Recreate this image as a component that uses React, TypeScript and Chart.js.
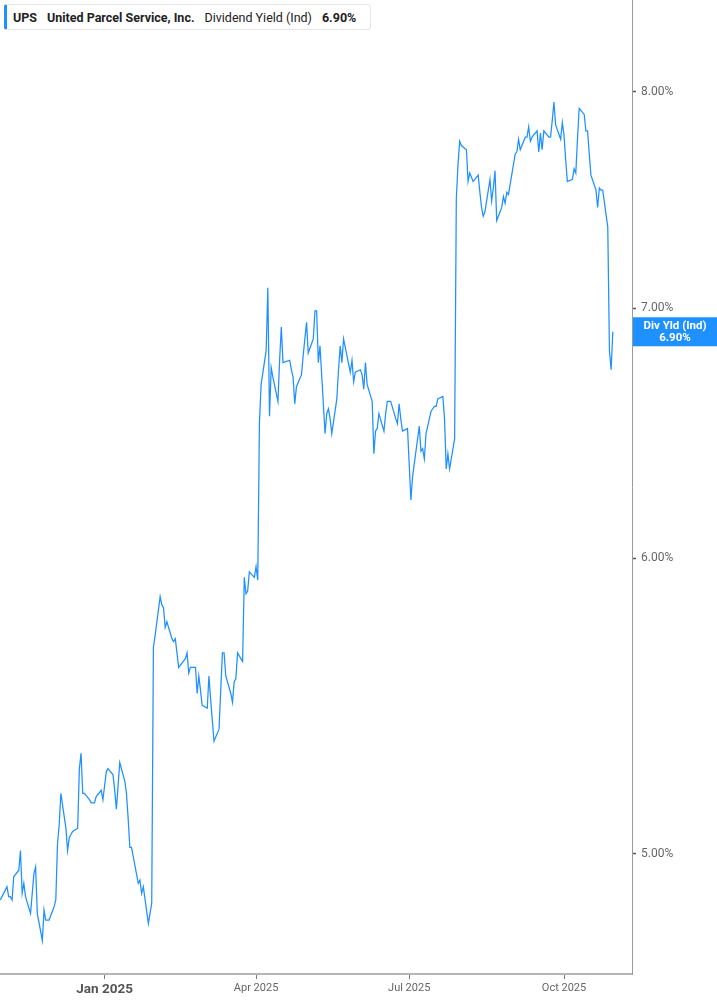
import { useEffect, useRef } from 'react'
import { Chart, registerables } from 'chart.js'

Chart.register(...registerables)

// trading days, Oct 31 2024 .. Oct 30 2025 (one row per month)
const tradingDates = [
  '2024-10-31',
  '2024-11-01', '2024-11-04', '2024-11-05', '2024-11-06', '2024-11-07', '2024-11-08', '2024-11-11', '2024-11-12', '2024-11-13', '2024-11-14', '2024-11-15', '2024-11-18', '2024-11-19', '2024-11-20', '2024-11-21', '2024-11-22', '2024-11-25', '2024-11-26', '2024-11-27', '2024-11-29',
  '2024-12-02', '2024-12-03', '2024-12-04', '2024-12-05', '2024-12-06', '2024-12-09', '2024-12-10', '2024-12-11', '2024-12-12', '2024-12-13', '2024-12-16', '2024-12-17', '2024-12-18', '2024-12-19', '2024-12-20', '2024-12-23', '2024-12-24', '2024-12-26', '2024-12-27', '2024-12-30', '2024-12-31',
  '2025-01-02', '2025-01-03', '2025-01-06', '2025-01-07', '2025-01-08', '2025-01-10', '2025-01-13', '2025-01-14', '2025-01-15', '2025-01-16', '2025-01-17', '2025-01-21', '2025-01-22', '2025-01-23', '2025-01-24', '2025-01-27', '2025-01-28', '2025-01-29', '2025-01-30', '2025-01-31',
  '2025-02-03', '2025-02-04', '2025-02-05', '2025-02-06', '2025-02-07', '2025-02-10', '2025-02-11', '2025-02-12', '2025-02-13', '2025-02-14', '2025-02-18', '2025-02-19', '2025-02-20', '2025-02-21', '2025-02-24', '2025-02-25', '2025-02-26', '2025-02-27', '2025-02-28',
  '2025-03-03', '2025-03-04', '2025-03-05', '2025-03-06', '2025-03-07', '2025-03-10', '2025-03-11', '2025-03-12', '2025-03-13', '2025-03-14', '2025-03-17', '2025-03-18', '2025-03-19', '2025-03-20', '2025-03-21', '2025-03-24', '2025-03-25', '2025-03-26', '2025-03-27', '2025-03-28', '2025-03-31',
  '2025-04-01', '2025-04-02', '2025-04-03', '2025-04-04', '2025-04-07', '2025-04-08', '2025-04-09', '2025-04-10', '2025-04-11', '2025-04-14', '2025-04-15', '2025-04-16', '2025-04-17', '2025-04-21', '2025-04-22', '2025-04-23', '2025-04-24', '2025-04-25', '2025-04-28', '2025-04-29', '2025-04-30',
  '2025-05-01', '2025-05-02', '2025-05-05', '2025-05-06', '2025-05-07', '2025-05-08', '2025-05-09', '2025-05-12', '2025-05-13', '2025-05-14', '2025-05-15', '2025-05-16', '2025-05-19', '2025-05-20', '2025-05-21', '2025-05-22', '2025-05-23', '2025-05-27', '2025-05-28', '2025-05-29', '2025-05-30',
  '2025-06-02', '2025-06-03', '2025-06-04', '2025-06-05', '2025-06-06', '2025-06-09', '2025-06-10', '2025-06-11', '2025-06-12', '2025-06-13', '2025-06-16', '2025-06-17', '2025-06-18', '2025-06-20', '2025-06-23', '2025-06-24', '2025-06-25', '2025-06-26', '2025-06-27', '2025-06-30',
  '2025-07-01', '2025-07-02', '2025-07-03', '2025-07-07', '2025-07-08', '2025-07-09', '2025-07-10', '2025-07-11', '2025-07-14', '2025-07-15', '2025-07-16', '2025-07-17', '2025-07-18', '2025-07-21', '2025-07-22', '2025-07-23', '2025-07-24', '2025-07-25', '2025-07-28', '2025-07-29', '2025-07-30', '2025-07-31',
  '2025-08-01', '2025-08-04', '2025-08-05', '2025-08-06', '2025-08-07', '2025-08-08', '2025-08-11', '2025-08-12', '2025-08-13', '2025-08-14', '2025-08-15', '2025-08-18', '2025-08-19', '2025-08-20', '2025-08-21', '2025-08-22', '2025-08-25', '2025-08-26', '2025-08-27', '2025-08-28', '2025-08-29',
  '2025-09-02', '2025-09-03', '2025-09-04', '2025-09-05', '2025-09-08', '2025-09-09', '2025-09-10', '2025-09-11', '2025-09-12', '2025-09-15', '2025-09-16', '2025-09-17', '2025-09-18', '2025-09-19', '2025-09-22', '2025-09-23', '2025-09-24', '2025-09-25', '2025-09-26', '2025-09-29', '2025-09-30',
  '2025-10-01', '2025-10-02', '2025-10-03', '2025-10-06', '2025-10-07', '2025-10-08', '2025-10-09', '2025-10-10', '2025-10-13', '2025-10-14', '2025-10-15', '2025-10-16', '2025-10-17', '2025-10-20', '2025-10-21', '2025-10-22', '2025-10-23', '2025-10-24', '2025-10-27', '2025-10-28', '2025-10-29', '2025-10-30',
]

// dividend yield (indicated), %
const dividendYield = [
  4.86,
  4.87, 4.90, 4.87, 4.87, 4.86, 4.93, 4.95, 5.01, 4.88, 4.91, 4.87, 4.82, 4.88, 4.94, 4.96, 4.82, 4.74, 4.83, 4.80, 4.80,
  4.84, 4.86, 5.03, 5.09, 5.19, 5.08, 5.01, 5.05, 5.06, 5.07, 5.08, 5.27, 5.32, 5.19, 5.19, 5.17, 5.16, 5.16, 5.18, 5.20, 5.17,
  5.26, 5.27, 5.25, 5.20, 5.14, 5.29, 5.23, 5.19, 5.11, 5.02, 5.02, 4.91, 4.92, 4.88, 4.90, 4.79, 4.82, 4.85, 5.68, 5.72,
  5.86, 5.83, 5.82, 5.75, 5.77, 5.71, 5.70, 5.71, 5.66, 5.61, 5.64, 5.66, 5.59, 5.61, 5.61, 5.52, 5.58, 5.53, 5.48,
  5.47, 5.58, 5.50, 5.43, 5.36, 5.40, 5.53, 5.66, 5.66, 5.58, 5.52, 5.49, 5.56, 5.57, 5.66, 5.63, 5.93, 5.87, 5.88, 5.95, 5.93,
  5.97, 5.92, 6.52, 6.68, 6.82, 7.09, 6.55, 6.75, 6.71, 6.61, 6.78, 6.92, 6.77, 6.78, 6.74, 6.71, 6.60, 6.67, 6.72, 6.80, 6.87,
  6.94, 6.81, 6.87, 6.99, 6.99, 6.77, 6.84, 6.48, 6.56, 6.58, 6.54, 6.48, 6.62, 6.74, 6.84, 6.77, 6.87, 6.73, 6.78, 6.69, 6.73,
  6.74, 6.72, 6.66, 6.77, 6.68, 6.61, 6.40, 6.49, 6.50, 6.56, 6.49, 6.56, 6.61, 6.61, 6.54, 6.52, 6.60, 6.54, 6.49, 6.50,
  6.36, 6.22, 6.31, 6.51, 6.41, 6.42, 6.38, 6.48, 6.57, 6.58, 6.59, 6.59, 6.62, 6.63, 6.54, 6.34, 6.40, 6.34, 6.46, 7.49, 7.65, 7.76,
  7.74, 7.72, 7.57, 7.61, 7.59, 7.57, 7.60, 7.52, 7.45, 7.41, 7.43, 7.58, 7.48, 7.54, 7.62, 7.39, 7.45, 7.50, 7.47, 7.52, 7.51,
  7.70, 7.71, 7.77, 7.72, 7.78, 7.78, 7.83, 7.76, 7.78, 7.81, 7.71, 7.80, 7.72, 7.81, 7.78, 7.78, 7.86, 7.95, 7.84, 7.77, 7.85,
  7.79, 7.67, 7.57, 7.58, 7.63, 7.61, 7.77, 7.92, 7.89, 7.81, 7.81, 7.70, 7.60, 7.53, 7.45, 7.54, 7.53, 7.53, 7.36, 6.82, 6.74, 6.90,
]

const xTickDates = ['2025-01-01', '2025-04-01', '2025-07-01', '2025-10-01']
const xTickLabels = ['Jan 2025', 'Apr 2025', 'Jul 2025', 'Oct 2025']
const yTicks = [5, 6, 7, 8]

const ticker = 'UPS'
const company = 'United Parcel Service, Inc.'
const metric = 'Dividend Yield (Ind)'
const tagLabel = 'Div Yld (Ind)'

const BLUE = '#1e90ff'
const FONT = 'Roboto, "Noto Sans", sans-serif'

const ORIGIN = Date.UTC(2025, 0, 1)
function dayNum(s: string) {
  const [y, m, d] = s.split('-').map(Number)
  return (Date.UTC(y, m - 1, d) - ORIGIN) / 86400000
}

const xTickDays = xTickDates.map(dayNum)
const lastValue = dividendYield[dividendYield.length - 1]
const fmt = (v: number) => `${v.toFixed(2)}%`

// value tag on the right axis
const lastValueTag = {
  id: 'lastValueTag',
  afterDraw(chart: Chart) {
    const { ctx, chartArea, scales } = chart
    const y = scales.y.getPixelForValue(lastValue)
    const left = chartArea.right + 1
    const w = chart.width - left
    ctx.save()
    ctx.fillStyle = BLUE
    ctx.fillRect(left, y - 14.5, w, 29)
    ctx.fillStyle = '#ffffff'
    ctx.font = `bold 11.5px ${FONT}`
    ctx.textAlign = 'center'
    ctx.textBaseline = 'middle'
    ctx.fillText(tagLabel, left + w / 2, y - 5.5)
    ctx.fillText(fmt(lastValue), left + w / 2, y + 6)
    ctx.restore()
  },
}

export default function App() {
  const canvasRef = useRef<HTMLCanvasElement>(null)
  const chartRef = useRef<Chart | null>(null)

  useEffect(() => {
    const canvas = canvasRef.current
    if (!canvas) return
    const ctx = canvas.getContext('2d')
    if (!ctx) return

    if (chartRef.current) chartRef.current.destroy()

    chartRef.current = new Chart(ctx, {
      type: 'line',
      data: {
        datasets: [
          {
            data: tradingDates.map((d, i) => ({ x: dayNum(d), y: dividendYield[i] })),
            borderColor: BLUE,
            borderWidth: 1.25,
            pointRadius: 0,
            tension: 0,
            fill: false,
          },
        ],
      },
      options: {
        responsive: false,
        animation: false,
        layout: { padding: 0 },
        plugins: {
          legend: { display: false },
          tooltip: { enabled: false },
        },
        scales: {
          x: {
            type: 'linear',
            bounds: 'data',
            min: -62.16,
            max: 313.4,
            afterBuildTicks: (scale: any) => {
              scale.ticks = xTickDays.map((v) => ({ value: v }))
            },
            afterFit: (scale: any) => {
              scale.height = 31
              scale.paddingLeft = 0
              scale.paddingRight = 0
            },
            ticks: {
              autoSkip: false,
              maxRotation: 0,
              padding: 3,
              callback: (v: any) => xTickLabels[xTickDays.indexOf(Number(v))] ?? '',
              color: (c: any) => (c.tick && c.tick.value === 0 ? '#555' : '#666'),
              font: (c: any) =>
                c.tick && c.tick.value === 0
                  ? { family: FONT, size: 13.5, weight: 'bold' }
                  : { family: FONT, size: 11 },
            },
            grid: {
              drawOnChartArea: false,
              drawTicks: true,
              tickLength: 5,
              tickColor: '#777',
              tickWidth: 1,
            },
            border: { display: true, color: '#b5b5b5', width: 2 },
          },
          y: {
            type: 'logarithmic',
            bounds: 'data',
            position: 'right',
            min: 4.643,
            max: 8.467,
            afterBuildTicks: (scale: any) => {
              scale.ticks = yTicks.map((v) => ({ value: v }))
            },
            afterFit: (scale: any) => {
              scale.width = 85
              scale.paddingTop = 0
              scale.paddingBottom = 0
            },
            ticks: {
              padding: 5,
              color: '#666',
              font: { family: FONT, size: 12 },
              callback: (v: any) => fmt(Number(v)),
            },
            grid: {
              drawOnChartArea: false,
              drawTicks: true,
              tickLength: 4,
              tickColor: '#555',
              tickWidth: 1.5,
            },
            border: { display: true, color: '#9a9a9a', width: 1 },
          },
        },
      },
      plugins: [lastValueTag],
    })

    return () => {
      if (chartRef.current) {
        chartRef.current.destroy()
        chartRef.current = null
      }
    }
  }, [])

  return (
    <div style={{ position: 'absolute', left: 0, top: 0, width: 717, height: 1005, background: '#fff' }}>
      <canvas ref={canvasRef} width={717} height={1005} style={{ width: 717, height: 1005, display: 'block' }} />
      <div
        style={{
          position: 'absolute',
          left: 4,
          top: 4,
          width: 367,
          height: 26,
          boxSizing: 'border-box',
          border: '1px solid #e6e6e6',
          borderLeft: `3px solid ${BLUE}`,
          borderRadius: 3,
          background: '#fff',
          display: 'flex',
          alignItems: 'center',
          paddingLeft: 6,
          fontFamily: FONT,
          fontSize: 12.5,
          color: '#222',
          whiteSpace: 'nowrap',
        }}
      >
        <span style={{ fontWeight: 700, marginRight: 10 }}>{ticker}</span>
        <span style={{ fontWeight: 700, marginRight: 10 }}>{company}</span>
        <span style={{ marginRight: 10 }}>{metric}</span>
        <span style={{ fontWeight: 700 }}>{fmt(lastValue)}</span>
      </div>
    </div>
  )
}
